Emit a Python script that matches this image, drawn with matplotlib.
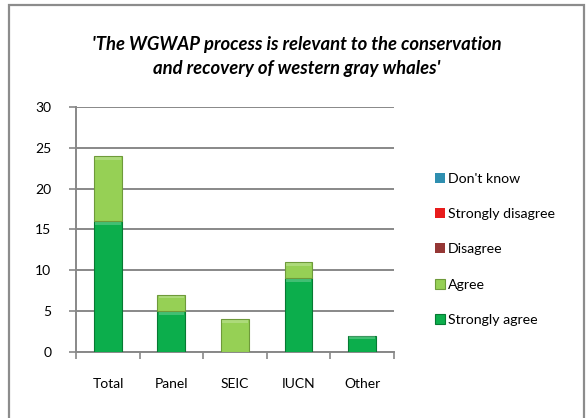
import matplotlib
matplotlib.use("Agg")
import matplotlib.pyplot as plt
import numpy as np
from matplotlib.patches import Rectangle

plt.rcParams['font.family'] = ['Lato', 'DejaVu Sans']

# data
categories = ['Total', 'Panel', 'SEIC', 'IUCN', 'Other']
strongly_agree = [16, 5, 0, 9, 2]
agree = [8, 2, 4, 2, 0]
disagree = [0, 0, 0, 0, 0]
strongly_disagree = [0, 0, 0, 0, 0]
dont_know = [0, 0, 0, 0, 0]

series = [
    ('Strongly agree', strongly_agree, '#0cae4c', '#067a33'),
    ('Agree', agree, '#96d055', '#6e9a3a'),
    ('Disagree', disagree, '#953735', '#6b2422'),
    ('Strongly disagree', strongly_disagree, '#e81c1c', '#a01010'),
    ("Don't know", dont_know, '#2f8fb0', '#1d6680'),
]

fig = plt.figure(figsize=(5.86, 4.18), dpi=100)
ax = fig.add_axes([0.13, 0.158, 0.542, 0.586])

x = np.arange(len(categories))
bottom = np.zeros(len(categories))
handles = []
for name, vals, col, edge in series:
    vals = np.array(vals, dtype=float)
    lws = [0.8 if v > 0 else 0 for v in vals]
    b = ax.bar(x, vals, 0.44, bottom=bottom, color=col, edgecolor=edge,
               linewidth=lws, label=name, zorder=3)
    # light bevel at top of each segment
    for xi, v, b0 in zip(x, vals, bottom):
        if v > 0:
            ax.add_patch(Rectangle((xi - 0.2, b0 + v - 0.45), 0.4, 0.35,
                                   color='white', alpha=0.22, lw=0, zorder=4))
    handles.append(b)
    bottom += vals

ax.set_xlim(-0.5, 4.5)
ax.set_ylim(0, 30)
ax.set_yticks(range(0, 31, 5))
ax.set_xticks(x)
ax.set_xticklabels(categories)
ax.set_xticks(np.arange(-0.5, 5, 1), minor=True)
ax.tick_params(axis='x', which='major', length=0, pad=19, labelsize=10)
ax.tick_params(axis='x', which='minor', length=5, color='#888888', width=1.2)
ax.tick_params(axis='y', length=5, color='#888888', width=1.2, labelsize=10, pad=13)
ax.yaxis.grid(True, color='#888888', linewidth=1.4, zorder=0)
ax.set_axisbelow(True)
for s in ['top', 'right']:
    ax.spines[s].set_visible(False)
for s in ['left', 'bottom']:
    ax.spines[s].set_color('#888888')
    ax.spines[s].set_linewidth(1.4)

leg = fig.legend(handles[::-1], [s[0] for s in series][::-1],
                 loc='upper left', bbox_to_anchor=(0.72, 0.617), frameon=False,
                 fontsize=10.2, handlelength=0.7, handleheight=0.7,
                 handletextpad=0.25, labelspacing=1.64)

fig.text(0.507, 0.865, "'The WGWAP process is relevant to the conservation\nand recovery of western gray whales'",
         ha='center', va='center', fontsize=13.3, fontweight='bold', style='italic',
         linespacing=1.5)

fig.patches.append(Rectangle((0.0154, -0.05), 0.981, 1.038, transform=fig.transFigure,
                             fill=False, edgecolor='#8c8c8c', linewidth=1.6))

fig.savefig('out.png', dpi=100)
